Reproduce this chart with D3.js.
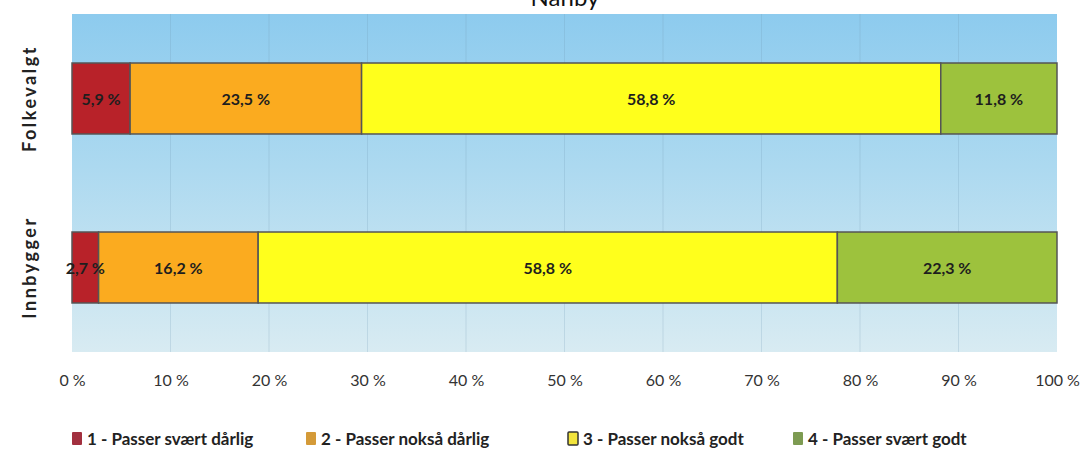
<!DOCTYPE html>
<html>
<head>
<meta charset="utf-8">
<script src="https://cdn.jsdelivr.net/npm/d3@7"></script>
<style>
  body { margin: 0; background: #fff; }
  svg { display: block; font-family: Lato, "Open Sans", sans-serif; }
</style>
</head>
<body>
<div class="chart"></div>
<script>
// stacked 100% bars, two groups

var categories = ["Folkevalgt", "Innbygger"];
var seriesNames = ["1 - Passer svært dårlig", "2 - Passer nokså dårlig", "3 - Passer nokså godt", "4 - Passer svært godt"];
var folkevalgt = [5.9, 23.5, 58.8, 11.8];
var innbygger  = [2.7, 16.2, 58.8, 22.3];
var tickValues = [0, 10, 20, 30, 40, 50, 60, 70, 80, 90, 100];
var barColors    = ["#b82229", "#fbab1f", "#ffff1c", "#9dc23d"];
var legendColors = ["#a2303f", "#d49a38", "#f2e43c", "#7d9b52"];

var width = 1088, height = 452;
var margin = {top: 14, right: 31, bottom: 100, left: 72};
var plotW = width - margin.left - margin.right,
    plotH = height - margin.top - margin.bottom;

var svg = d3.select(".chart").append("svg")
    .attr("width", width)
    .attr("height", height);

var defs = svg.append("defs");
var grad = defs.append("linearGradient")
    .attr("id", "bg").attr("x1", 0).attr("y1", 0).attr("x2", 0).attr("y2", 1);
grad.append("stop").attr("offset", "0%").attr("stop-color", "#8dcbee");
grad.append("stop").attr("offset", "45%").attr("stop-color", "#acd9f0");
grad.append("stop").attr("offset", "100%").attr("stop-color", "#d8ebf2");

// title, mostly above the top edge like the scan
svg.append("text")
    .attr("x", 565).attr("y", 6)
    .attr("text-anchor", "middle")
    .attr("font-size", 24)
    .attr("fill", "#111")
    .text("Nanby");

var g = svg.append("g")
    .attr("transform", "translate(" + margin.left + "," + margin.top + ")");

var x = d3.scaleLinear().domain([0, 100]).range([0, plotW]);
var y = d3.scaleBand().domain(categories).range([0, plotH]).paddingInner(0.58).paddingOuter(0.29);

g.append("rect")
    .attr("width", plotW).attr("height", plotH)
    .attr("fill", "url(#bg)");

// vertical gridlines
g.selectAll(".grid")
    .data(tickValues.slice(1, -1))
    .enter()
    .append("line")
    .attr("x1", function(d) { return x(d); })
    .attr("x2", function(d) { return x(d); })
    .attr("y1", 0).attr("y2", plotH)
    .attr("stroke", "#6f97b3")
    .attr("stroke-opacity", 0.22)
    .attr("stroke-width", 1);

var rows = [folkevalgt, innbygger];
var segs = [];
rows.forEach(function(vals, i) {
    var acc = 0;
    vals.forEach(function(v, j) {
        segs.push({cat: categories[i], start: acc, value: v, idx: j});
        acc += v;
    });
});

g.selectAll(".seg")
    .data(segs)
    .enter()
    .append("rect")
    .attr("x", function(d) { return x(d.start); })
    .attr("y", function(d) { return y(d.cat); })
    .attr("width", function(d) { return x(d.start + d.value) - x(d.start); })
    .attr("height", y.bandwidth())
    .attr("fill", function(d) { return barColors[d.idx]; })
    .attr("stroke", "#555")
    .attr("stroke-width", 1.5);

g.selectAll(".lbl")
    .data(segs)
    .enter()
    .append("text")
    .attr("x", function(d) { return x(d.start + d.value / 2); })
    .attr("y", function(d) { return y(d.cat) + y.bandwidth() / 2 + 6; })
    .attr("text-anchor", "middle")
    .attr("font-size", 16)
    .attr("font-weight", "bold")
    .attr("fill", "#1e1e1e")
    .text(function(d) { return d3.format(".1f")(d.value).replace(".", ",") + " %"; });

// x axis labels
var xAxis = d3.axisBottom(x)
    .tickValues(tickValues)
    .tickSize(0)
    .tickPadding(23)
    .tickFormat(function(d) { return d + " %"; });

var ax = g.append("g")
    .attr("transform", "translate(0," + plotH + ")")
    .call(xAxis);
ax.select(".domain").remove();
ax.selectAll("text")
    .attr("font-size", 16)
    .attr("font-family", "Lato, sans-serif")
    .attr("fill", "#333");

// category labels, rotated
g.selectAll(".cat")
    .data(categories)
    .enter()
    .append("text")
    .attr("transform", function(d) {
        return "translate(-36," + (y(d) + y.bandwidth() / 2) + ") rotate(-90)";
    })
    .attr("text-anchor", "middle")
    .attr("font-size", 18)
    .attr("font-weight", "bold")
    .attr("letter-spacing", 2.5)
    .attr("fill", "#222")
    .text(function(d) { return d; });

// legend
var legendX = [72, 306, 568, 793];
var legend = svg.selectAll(".legend")
    .data(seriesNames)
    .enter()
    .append("g")
    .attr("transform", function(d, i) { return "translate(" + legendX[i] + ",432)"; });

legend.append("rect")
    .attr("width", 10).attr("height", 13)
    .attr("rx", 1)
    .attr("fill", function(d, i) { return legendColors[i]; })
    .attr("stroke", function(d, i) { return i == 2 ? "#333" : "none"; })
    .attr("stroke-width", 1.5);

legend.append("text")
    .attr("x", 15).attr("y", 13)
    .attr("font-size", 17)
    .attr("font-weight", "bold")
    .attr("fill", "#222")
    .text(function(d) { return d; });
</script>
</body>
</html>
